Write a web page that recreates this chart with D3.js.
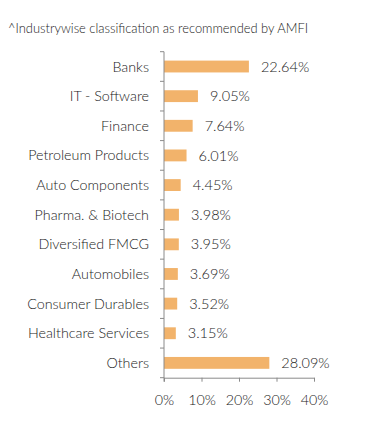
<!DOCTYPE html>
<html>
<head>
<meta charset="utf-8">
<script src="https://cdn.jsdelivr.net/npm/d3@7"></script>
<style>
html,body{margin:0;padding:0;background:#fff;}
svg{display:block;}
text{font-family:Lato,"Open Sans",sans-serif;fill:#1a1a1a;font-weight:300;}
</style>
</head>
<body>
<svg id="chart" width="391" height="431"></svg>
<script>
const title = "^Industrywise classification as recommended by AMFI";
const categories = ["Banks","IT - Software","Finance","Petroleum Products","Auto Components","Pharma. & Biotech","Diversified FMCG","Automobiles","Consumer Durables","Healthcare Services","Others"];
const values = [22.64,9.05,7.64,6.01,4.45,3.98,3.95,3.69,3.52,3.15,28.09];
const xTicks = [0,10,20,30,40];

const svg = d3.select("#chart");
const margin = {left:164, right:77, top:51.7, bottom:53.3};
const W = 391, H = 431;

svg.append("text").attr("x",8).attr("y",33).attr("font-size",12.9).text(title);

const x = d3.scaleLinear().domain([0,40]).range([margin.left, W - margin.right]);
const y = d3.scaleBand().domain(categories).range([margin.top, H - margin.bottom]).paddingInner(0.6).paddingOuter(0.3);

const data = categories.map((c,i)=>({c, v: values[i]}));

svg.selectAll("rect.bar").data(data).join("rect")
  .attr("class","bar")
  .attr("x", x(0))
  .attr("y", d=>y(d.c))
  .attr("width", d=>x(d.v)-x(0))
  .attr("height", y.bandwidth())
  .attr("fill","#F2B36B");

svg.selectAll("text.val").data(data).join("text")
  .attr("class","val")
  .attr("x", d=>x(d.v)+12)
  .attr("y", d=>y(d.c)+y.bandwidth()/2)
  .attr("dy","0.35em")
  .attr("font-size",14.5)
  .text(d=>d.v.toFixed(2)+"%");

// category labels
svg.selectAll("text.cat").data(data).join("text")
  .attr("class","cat")
  .attr("x", margin.left-15)
  .attr("y", d=>y(d.c)+y.bandwidth()/2)
  .attr("dy","0.35em")
  .attr("text-anchor","end")
  .attr("font-size",14.3)
  .text(d=>d.c);

// y axis line with ticks at band boundaries
const y0 = margin.top, y1 = H - margin.bottom;
const bounds = d3.range(categories.length+1).map(i=>y0 + i*(y1-y0)/categories.length);
const g = svg.append("g").attr("stroke","#8a8a8a").attr("stroke-width",1);
g.append("line").attr("x1",x(0)).attr("x2",x(0)).attr("y1",y0).attr("y2",y1+4);
g.selectAll("line.yt").data(bounds).join("line").attr("class","yt")
  .attr("x1",x(0)-4).attr("x2",x(0)).attr("y1",d=>d).attr("y2",d=>d);

// x axis
const xAxis = d3.axisBottom(x).tickValues(xTicks).tickFormat(d=>d+"%").tickSize(4).tickSizeOuter(0);
const xg = svg.append("g").attr("transform",`translate(0,${y1})`).call(xAxis);
xg.select(".domain").attr("stroke","#8a8a8a");
xg.selectAll(".tick line").attr("stroke","#8a8a8a");
xg.selectAll(".tick text").attr("font-size",14.3).attr("font-family","Lato,sans-serif").attr("font-weight",300).attr("fill","#1a1a1a").attr("y",17);
</script>
</body>
</html>
